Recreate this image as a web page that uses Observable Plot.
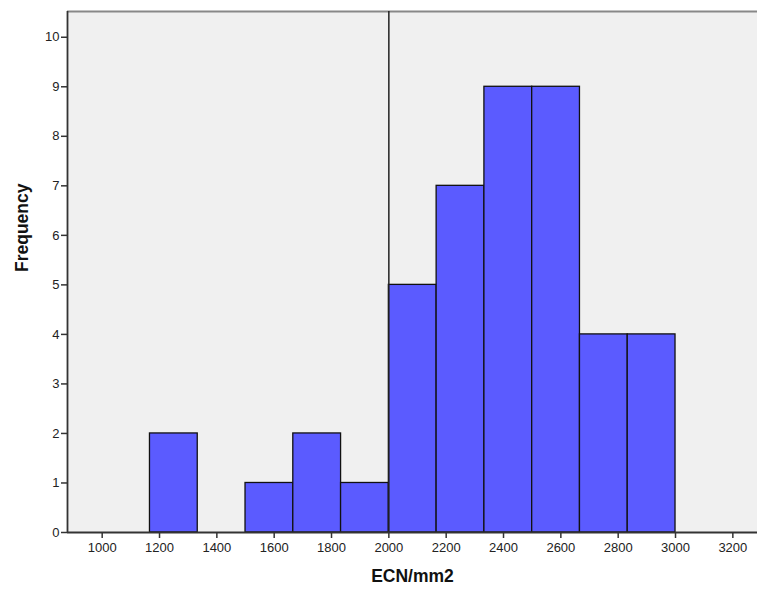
<!DOCTYPE html>
<html>
<head>
<meta charset="utf-8">
<script src="https://cdn.jsdelivr.net/npm/d3@7"></script>
<script src="https://cdn.jsdelivr.net/npm/@observablehq/plot@0.6"></script>
<style>
  html, body { margin: 0; padding: 0; background: #fff; }
  #chart svg { display: block; }
</style>
</head>
<body>
<div id="chart"></div>
<script>
// Histogram bins (ECN/mm2), bin width 1000/6
const binStart = [1166.67, 1333.33, 1500, 1666.67, 1833.33, 2000, 2166.67, 2333.33, 2500, 2666.67, 2833.33];
const binEnd   = [1333.33, 1500, 1666.67, 1833.33, 2000, 2166.67, 2333.33, 2500, 2666.67, 2833.33, 3000];
const counts   = [2, 0, 1, 2, 1, 5, 7, 9, 9, 4, 4];
const xTicks = [1000, 1200, 1400, 1600, 1800, 2000, 2200, 2400, 2600, 2800, 3000, 3200];
const yTicks = [0, 1, 2, 3, 4, 5, 6, 7, 8, 9, 10];
const refLine = [2000];
const xLabel = "ECN/mm2";
const yLabel = "Frequency";

const bins = binStart.map((s, i) => ({x1: s, x2: binEnd[i], y: counts[i]})).filter(d => d.y > 0);

const xMin = 879, xMax = 3286, yMax = 10.52;

const chart = Plot.plot({
  width: 757,
  height: 591,
  marginLeft: 67,
  marginRight: 0,
  marginTop: 11,
  marginBottom: 59,
  style: {fontFamily: "'Liberation Sans', Arial, sans-serif", fontSize: "13px", color: "#222", background: "#fff"},
  x: {domain: [xMin, xMax]},
  y: {domain: [0, yMax]},
  marks: [
    Plot.frame({fill: "#f0f0f0", stroke: "none"}),
    Plot.ruleY([yMax], {stroke: "#888", strokeWidth: 2}),
    Plot.rectY(bins, {x1: "x1", x2: "x2", y: "y", fill: "#5b5bff", stroke: "#111", strokeWidth: 1.3}),
    Plot.ruleX(refLine, {stroke: "#222", strokeWidth: 1.5}),
    Plot.ruleY([0], {stroke: "#333", strokeWidth: 1.8}),
    Plot.ruleX([xMin], {stroke: "#333", strokeWidth: 1.8}),
    Plot.axisX({ticks: xTicks, tickSize: 6, tickPadding: 4, tickFormat: d => String(d), label: null, fontSize: 13, fill: "#222", stroke: "#333", strokeWidth: 1.5}),
    Plot.axisY({ticks: yTicks, tickSize: 6, tickPadding: 2, tickFormat: d => String(d), label: null, fontSize: 13, fill: "#222", stroke: "#333", strokeWidth: 1.5}),
    Plot.text([xLabel], {frameAnchor: "bottom", dy: 49, text: d => d, fontSize: 17.5, fontWeight: "bold", fill: "#111"}),
    Plot.text([yLabel], {frameAnchor: "left", dx: -45, rotate: -90, text: d => d, fontSize: 17.5, fontWeight: "bold", fill: "#111"})
  ]
});
document.getElementById("chart").appendChild(chart);
</script>
</body>
</html>
